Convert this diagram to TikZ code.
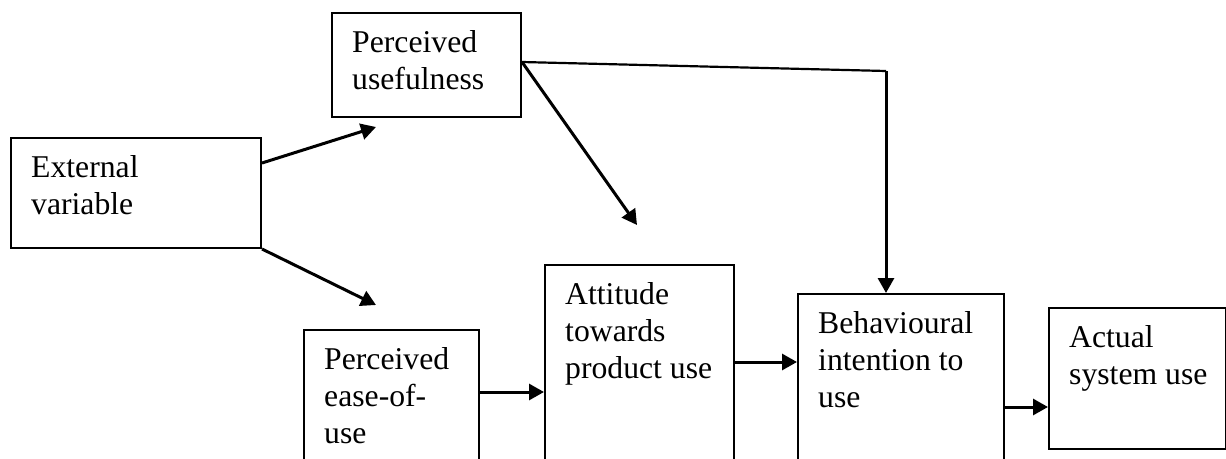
\documentclass[tikz,border=0pt]{standalone}
\usepackage{fontspec}
\setmainfont{Liberation Serif}
\usetikzlibrary{arrows.meta,calc}
\begin{document}
\begin{tikzpicture}[x=1pt,y=-1pt,
  box/.style={draw, line width=2pt, inner sep=0, anchor=north west},
  lbl/.style={anchor=north west, inner sep=0, align=left, font=\fontsize{31.7}{37}\selectfont},
  arr/.style={line width=3pt, -{Triangle[length=15pt,width=16pt]}},
  ln/.style={line width=2.2pt}]
\path[use as bounding box] (0,0) rectangle (1226,458);
\clip (0,0) rectangle (1226,458);
\fill[white] (0,0) rectangle (1226,458);
% boxes
\node[box, minimum width=250pt, minimum height=110pt] (ev) at (10,137) {};
\node[box, minimum width=189pt, minimum height=104pt] (pu) at (331,12) {};
\node[box, minimum width=175pt, minimum height=200pt] (peou) at (303,329) {};
\node[box, minimum width=189pt, minimum height=250pt] (att) at (544,264) {};
\node[box, minimum width=206pt, minimum height=220pt] (bi) at (797,293) {};
\node[box, minimum width=177pt, minimum height=141pt] (asu) at (1048,307) {};
% labels
\node[lbl] (evt) at ($(ev.north west)+(21,18.3)$) {External\\variable};
\node[lbl] (put) at ($(pu.north west)+(21,18.3)$) {Perceived\\usefulness};
\node[lbl] (peout) at ($(peou.north west)+(21,18.3)$) {Perceived\\ease-of-\\use};
\node[lbl] (attt) at ($(att.north west)+(21,18.3)$) {Attitude\\towards\\product use};
\node[lbl] (bit) at ($(bi.north west)+(21,18.3)$) {Behavioural\\intention to\\use};
\node[lbl] (asut) at ($(asu.north west)+(21,18.3)$) {Actual\\system use};
% connector points
\coordinate (evA) at ($(ev.north east)+(0,26)$);
\coordinate (puTip) at (376,127);
\coordinate (peouTip) at (376,305);
\coordinate (puA) at ($(pu.north east)+(0,50)$);
\coordinate (attTip) at (637,225);
\coordinate (bend) at (886,71);
\coordinate (peouA) at ($(peou.north east)+(0,63)$);
\coordinate (attA) at ($(att.north east)+(0,98)$);
\coordinate (biA) at ($(bi.north east)+(0,114)$);
% connectors
\draw[arr] (evA) -- (puTip);
\draw[arr] (ev.south east) -- (peouTip);
\draw[arr] (puA) -- (attTip);
\draw[ln] (puA) -- (bend);
\draw[arr] (bend) -- (bend |- bi.north);
\draw[arr] (peouA) -- (peouA -| att.west);
\draw[arr] (attA) -- (attA -| bi.west);
\draw[arr] (biA) -- (biA -| asu.west);
\end{tikzpicture}
\end{document}
